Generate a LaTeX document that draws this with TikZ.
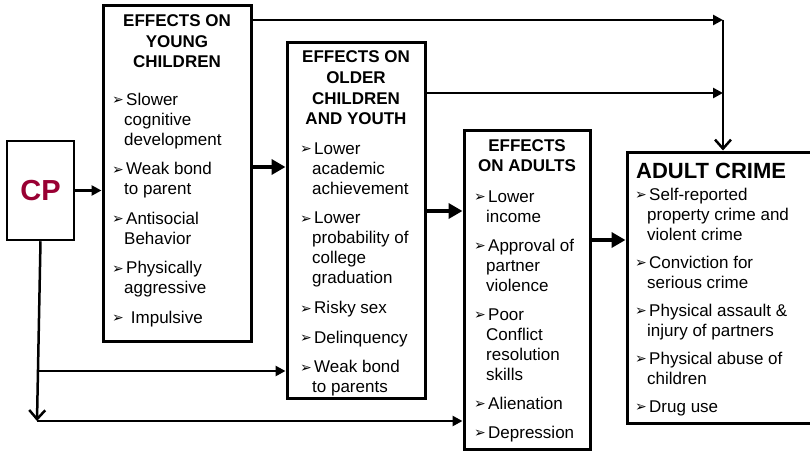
\documentclass[tikz,border=0pt]{standalone}
\usepackage{fontspec}
\setmainfont{Liberation Sans}
\newfontfamily\symfont{DejaVu Sans}
\usetikzlibrary{arrows.meta}
\definecolor{cpred}{RGB}{153,0,51}
\newcommand\bul{\makebox[14pt][l]{\symfont\fontsize{14}{14}\selectfont\raisebox{0.3pt}{\char"27A2}}}
\newcommand\ind{\hspace*{12pt}}
\begin{document}
\begin{tikzpicture}[x=1pt,y=-1pt,
 box/.style={draw,line width=3pt,inner sep=0pt,rectangle},
 head/.style={font=\bfseries\fontsize{17}{20.5}\selectfont,anchor=base,inner sep=0pt},
 items/.style={font=\fontsize{17}{20}\selectfont,anchor=base west,inner sep=0pt},
 conn/.style={line width=2.5pt,-{Triangle[length=10pt,width=10pt]}},
 bigconn/.style={line width=4.5pt,-{Triangle[length=14pt,width=15pt]}},
 vconn/.style={line width=2.5pt,-{Straight Barb[length=9pt,width=16pt]}}]
\useasboundingbox (0,0) rectangle (810,452);
% boxes
\node[box,line width=2.5pt,minimum width=67pt,minimum height=99pt,text=cpred,font=\bfseries\fontsize{29}{29}\selectfont] (cp) at (40.5,190.5) {CP};
\node[box,minimum width=148pt,minimum height=335pt] (young) at (177,173.5) {};
\node[box,minimum width=138pt,minimum height=355pt] (older) at (356,220.5) {};
\node[box,minimum width=126pt,minimum height=319pt] (adults) at (527,289.5) {};
\node[box,minimum width=203pt,minimum height=271pt] (crime) at (728.5,287.5) {};
% headers
\node[head] (youngh) at (177,27) {\begin{tabular}[t]{@{}c@{}}EFFECTS ON\\YOUNG\\CHILDREN\end{tabular}};
\node[head] (olderh) at (356,63) {\begin{tabular}[t]{@{}c@{}}EFFECTS ON\\OLDER\\CHILDREN\\AND YOUTH\end{tabular}};
\node[head] (adultsh) at (527,151) {\begin{tabular}[t]{@{}c@{}}EFFECTS\\ON ADULTS\end{tabular}};
\node[head,anchor=base west,font=\bfseries\fontsize{22}{22}\selectfont] (crimeh) at (636,178) {ADULT CRIME};
% items
\node[items] (youngi) at (112,105) {\begin{tabular}[t]{@{}l@{}}\bul Slower\\ \ind cognitive\\ \ind development\\[9.5pt]
 \bul Weak bond\\ \ind to parent\\[9.5pt]
 \bul Antisocial\\ \ind Behavior\\[9.5pt]
 \bul Physically\\ \ind aggressive\\[9.5pt]
 \bul\ Impulsive\end{tabular}};
\node[items] (olderi) at (300,154) {\begin{tabular}[t]{@{}l@{}}\bul Lower\\ \ind academic\\ \ind achievement\\[9.7pt]
 \bul Lower\\ \ind probability of\\ \ind college\\ \ind graduation\\[9.7pt]
 \bul Risky sex\\[9.7pt]
 \bul Delinquency\\[9.7pt]
 \bul Weak bond\\ \ind to parents\end{tabular}};
\node[items] (adultsi) at (474,202) {\begin{tabular}[t]{@{}l@{}}\bul Lower\\ \ind income\\[9pt]
 \bul Approval of\\ \ind partner\\ \ind violence\\[9pt]
 \bul Poor\\ \ind Conflict\\ \ind resolution\\ \ind skills\\[9pt]
 \bul Alienation\\[9pt]
 \bul Depression\end{tabular}};
\node[items] (crimei) at (635,200) {\begin{tabular}[t]{@{}l@{}}\bul Self-reported\\ \ind property crime and\\ \ind violent crime\\[8pt]
 \bul Conviction for\\ \ind serious crime\\[8pt]
 \bul Physical assault \&\\ \ind injury of partners\\[8pt]
 \bul Physical abuse of\\ \ind children\\[8pt]
 \bul Drug use\end{tabular}};
% junction coordinates
\coordinate (j1) at (723,20);
\coordinate (j2) at (723,93);
\coordinate (cpb) at (37,421);
\coordinate (br) at (38.7,371);
% connectors
\draw[conn] (cp.east) -- (cp.east -| young.west);
\draw[bigconn] ([yshift=6.5pt]young.east) coordinate (a1) -- (a1 -| older.west);
\draw[bigconn] ([yshift=9.5pt]older.east) coordinate (a2) -- (a2 -| adults.west);
\draw[bigconn] ([yshift=49.5pt]adults.east) coordinate (a3) -- (a3 -| crime.west);
\draw[conn] ([yshift=153.5pt]young.east) -- (j1);
\draw[conn] ([yshift=127.5pt]older.east) -- (j2);
\draw[vconn] (j1) -- (j1 |- crime.north);
\draw[vconn] (cp.south) -- (cpb);
\draw[conn] (br) -- (br -| older.west);
\draw[conn] (cpb) -- (cpb -| adults.west);
\end{tikzpicture}
\end{document}
